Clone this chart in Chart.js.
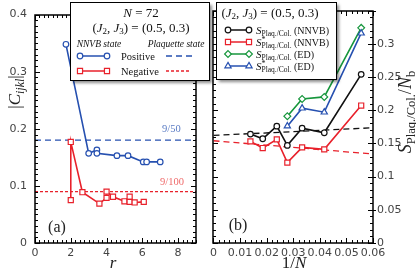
<!DOCTYPE html>
<html><head><meta charset="utf-8">
<script src="https://cdn.jsdelivr.net/npm/chart.js@4/dist/chart.umd.min.js"></script>
<style>
html,body{margin:0;padding:0;background:#fff;width:416px;height:272px;overflow:hidden}
canvas{position:absolute;top:0}
#ca{left:0}
#cb{left:206px}
</style></head><body>
<canvas id="ca" width="216" height="272"></canvas>
<canvas id="cb" width="210" height="272"></canvas>
<script>
// ---------- Panel (a): |C_ijkl| vs r, N = 72 ----------
const aPosR = [1.73, 3.0, 3.46, 3.46, 4.58, 5.2, 6.05, 6.24, 7.0];
const aPosC = [0.348, 0.157, 0.163, 0.157, 0.153, 0.153, 0.142, 0.142, 0.142];
const aNegR = [2.0, 2.0, 2.65, 3.6, 4.0, 4.0, 4.36, 5.0, 5.29, 5.29, 5.57, 6.08];
const aNegC = [0.075, 0.177, 0.089, 0.069, 0.079, 0.090, 0.081, 0.073, 0.081, 0.072, 0.071, 0.072];
const aPlaqPos = 9 / 50;
const aPlaqNeg = 9 / 100;
const aXTicks = [0, 2, 4, 6, 8];
const aYTicks = [0, 0.1, 0.2, 0.3, 0.4];

// ---------- Panel (b): S / N_b vs 1/N ----------
const bInvN = [1/72, 1/54, 1/42, 1/36, 1/30, 1/24, 1/18];
const bSNNVB = [0.164, 0.157, 0.176, 0.147, 0.173, 0.166, 0.254];
const bSstarNNVB = [0.153, 0.143, 0.156, 0.121, 0.144, 0.141, 0.207];
const bInvNED = [1/36, 1/30, 1/24, 1/18];
const bSED = [0.191, 0.217, 0.220, 0.324];
const bSstarED = [0.176, 0.203, 0.197, 0.316];
const bFitX = [0, 0.06];
const bFitS = [0.162, 0.1735];
const bFitSstar = [0.154, 0.134];
const bXTicks = [0, 0.01, 0.02, 0.03, 0.04, 0.05, 0.06];
const bYTicks = [0, 0.05, 0.1, 0.15, 0.2, 0.25, 0.3];

const BLUE = '#2650b0', RED = '#e8212b', GREEN = '#16963c', BLACK = '#111111';
const SERIF = '"Liberation Serif", "DejaVu Serif", serif';
const SANS = '"DejaVu Sans", sans-serif';

const mk = (xs, ys) => xs.map((x, i) => ({x: x, y: ys[i]}));

// ---- rich text helpers ----
function fontOf(p) { return (p.it ? 'italic ' : '') + p.s + 'px ' + SERIF; }
function partW(ctx, p) {
  if (p.stack) return Math.max.apply(null, p.stack.map(q => partW(ctx, q)));
  ctx.font = fontOf(p); return ctx.measureText(p.t).width;
}
function drawRich(ctx, parts, x, y, align) {
  let w = 0; parts.forEach(p => w += partW(ctx, p));
  let cx = align === 'center' ? x - w / 2 : (align === 'right' ? x - w : x);
  ctx.textBaseline = 'alphabetic'; ctx.textAlign = 'left';
  parts.forEach(p => {
    const list = p.stack ? p.stack : [p];
    list.forEach(q => { ctx.font = fontOf(q); ctx.fillText(q.t, cx, y + (q.dy || 0)); });
    cx += partW(ctx, p);
  });
  return w;
}
function marker(ctx, style, x, y, r, color) {
  ctx.save();
  ctx.fillStyle = '#fff'; ctx.strokeStyle = color; ctx.lineWidth = 1.2;
  ctx.beginPath();
  if (style === 'circle') ctx.arc(x, y, r, 0, Math.PI * 2);
  else if (style === 'rect') { const s = r * Math.SQRT1_2; ctx.rect(x - s, y - s, 2 * s, 2 * s); }
  else if (style === 'rectRot') { ctx.moveTo(x, y - r); ctx.lineTo(x + r, y); ctx.lineTo(x, y + r); ctx.lineTo(x - r, y); ctx.closePath(); }
  else if (style === 'triangle') {
    ctx.moveTo(x, y - r); ctx.lineTo(x + r * 0.866, y + r * 0.5); ctx.lineTo(x - r * 0.866, y + r * 0.5); ctx.closePath();
  }
  ctx.fill(); ctx.stroke(); ctx.restore();
}
function legLine(ctx, x1, x2, y, color, style, r) {
  ctx.save(); ctx.strokeStyle = color; ctx.lineWidth = 1.5;
  ctx.beginPath(); ctx.moveTo(x1, y); ctx.lineTo(x2, y); ctx.stroke(); ctx.restore();
  marker(ctx, style, x1, y, r, color); marker(ctx, style, x2, y, r, color);
}
function dashLine(ctx, x1, x2, y, color, dash, w) {
  ctx.save(); ctx.strokeStyle = color; ctx.lineWidth = w; ctx.setLineDash(dash);
  ctx.beginPath(); ctx.moveTo(x1, y); ctx.lineTo(x2, y); ctx.stroke(); ctx.restore();
}
function box(ctx, x1, y1, x2, y2) {
  ctx.save();
  ctx.fillStyle = 'rgba(0,0,0,0.45)';
  ctx.filter = 'blur(1.5px)';
  ctx.fillRect(x1 + 3, y1 + 3, x2 - x1, y2 - y1);
  ctx.filter = 'none';
  ctx.fillStyle = '#fff'; ctx.fillRect(x1, y1, x2 - x1, y2 - y1);
  ctx.strokeStyle = '#000'; ctx.lineWidth = 1;
  ctx.strokeRect(x1 + 0.5, y1 + 0.5, x2 - x1, y2 - y1);
  ctx.restore();
}

// ---- frame + inward ticks plugin ----
function framePlugin(cfg) {
  return {
    id: 'frame_' + cfg.id,
    afterDraw(chart) {
      const ctx = chart.ctx, a = chart.chartArea, xs = chart.scales.x, ys = chart.scales.y;
      ctx.save();
      ctx.strokeStyle = '#000'; ctx.lineWidth = 1;
      const L = Math.round(a.left), R = Math.round(a.right), T = Math.round(a.top), B = Math.round(a.bottom);
      // x ticks
      let n = Math.round((cfg.xMax - cfg.xMin) / cfg.xMinor);
      ctx.beginPath();
      for (let i = 0; i <= n; i++) {
        const v = cfg.xMin + i * cfg.xMinor;
        const px = Math.round(xs.getPixelForValue(v)) + 0.5;
        const len = (i % cfg.xEvery === 0) ? 5 : 3;
        ctx.moveTo(px, B); ctx.lineTo(px, B - len);
        ctx.moveTo(px, T); ctx.lineTo(px, T + len);
      }
      n = Math.round((cfg.yMax - cfg.yMin) / cfg.yMinor);
      for (let i = 0; i <= n; i++) {
        const v = cfg.yMin + i * cfg.yMinor;
        const py = Math.round(ys.getPixelForValue(v)) + 0.5;
        const len = (i % cfg.yEvery === 0) ? 5 : 3;
        ctx.moveTo(L, py); ctx.lineTo(L + len, py);
        ctx.moveTo(R, py); ctx.lineTo(R - len, py);
        if (cfg.rightOut && i % cfg.yEvery === 0) { ctx.moveTo(R, py); ctx.lineTo(R + 3, py); }
      }
      ctx.stroke();
      ctx.lineWidth = 1.5;
      ctx.strokeRect(L, T, R - L, B - T);
      ctx.fillStyle = '#000';
      cfg.extra(ctx, chart);
      ctx.restore();
    }
  };
}

const tickFont = {family: SANS, size: 11};
function baseScales(xMin, xMax, xT, yMin, yMax, yT, yPos, yW, padY) {
  return {
    x: {
      type: 'linear', min: xMin, max: xMax,
      grid: {display: false, drawTicks: false}, border: {display: false},
      afterBuildTicks: s => { s.ticks = xT.map(v => ({value: v})); },
      afterFit: s => { s.height = 29; },
      ticks: {font: tickFont, color: '#444', padding: 4, maxRotation: 0, autoSkip: false,
        callback: v => String(+v.toFixed(3))}
    },
    y: {
      type: 'linear', min: yMin, max: yMax, position: yPos,
      grid: {display: false, drawTicks: false}, border: {display: false},
      afterBuildTicks: s => { s.ticks = yT.map(v => ({value: v})); },
      afterFit: s => { s.width = yW; },
      ticks: {font: tickFont, color: '#444', padding: padY, autoSkip: false,
        callback: v => String(+v.toFixed(3))}
    }
  };
}
const commonOpts = {
  responsive: false, animation: false, devicePixelRatio: 1,
  plugins: {legend: {display: false}, tooltip: {enabled: false}},
  elements: {line: {tension: 0}}
};

// ---------------- Chart (a) ----------------
new Chart(document.getElementById('ca'), {
  type: 'scatter',
  data: {datasets: [
    {data: mk(aPosR, aPosC), showLine: true, borderColor: BLUE, borderWidth: 1.6,
      pointStyle: 'circle', pointRadius: 2.8, pointBorderWidth: 1.2, pointBackgroundColor: '#fff', pointBorderColor: BLUE},
    {data: mk(aNegR, aNegC), showLine: true, borderColor: RED, borderWidth: 1.6,
      pointStyle: 'rect', pointRadius: 3.6, pointBorderWidth: 1.2, pointBackgroundColor: '#fff', pointBorderColor: RED},
    {data: mk([0, 9], [aPlaqPos, aPlaqPos]), showLine: true, borderColor: BLUE, borderWidth: 1.3,
      borderDash: [6, 4], pointRadius: 0},
    {data: mk([0, 9], [aPlaqNeg, aPlaqNeg]), showLine: true, borderColor: RED, borderWidth: 1.3,
      borderDash: [3, 2], pointRadius: 0}
  ]},
  options: Object.assign({}, commonOpts, {
    layout: {padding: {top: 5, right: 20, left: 0, bottom: 0}},
    scales: baseScales(0, 9, aXTicks, 0, 0.4, aYTicks, 'left', 35, 8)
  }),
  plugins: [framePlugin({
    id: 'a', xMin: 0, xMax: 9, xMinor: 0.25, xEvery: 8, yMin: 0, yMax: 0.4, yMinor: 0.01, yEvery: 10,
    extra(ctx, chart) {
      // reference labels
      ctx.fillStyle = '#5b7cc4';
      drawRich(ctx, [{t: '9/50', s: 10.5}], 162, 131.5, 'left');
      ctx.fillStyle = '#ef6a6a';
      drawRich(ctx, [{t: '9/100', s: 10.5}], 160, 184.5, 'left');
      ctx.fillStyle = '#222';
      drawRich(ctx, [{t: '(a)', s: 16}], 57, 232, 'center');
      // axis titles
      drawRich(ctx, [{t: 'r', s: 17, it: 1}], 113, 268, 'center');
      ctx.save(); ctx.translate(14, 92); ctx.rotate(-Math.PI / 2);
      drawRich(ctx, [{t: '|', s: 17}, {t: 'C', s: 17, it: 1}, {t: 'ijkl', s: 12, it: 1, dy: 4}, {t: '|', s: 17}], 0, 6, 'center');
      ctx.restore();
      // legend
      box(ctx, 70, 2, 209, 80);
      ctx.fillStyle = '#111';
      drawRich(ctx, [{t: 'N', s: 13, it: 1}, {t: ' = 72', s: 13}], 141, 17, 'center');
      drawRich(ctx, [{t: '(', s: 13}, {t: 'J', s: 13, it: 1}, {t: '2', s: 9, dy: 2.5}, {t: ', ', s: 13},
        {t: 'J', s: 13, it: 1}, {t: '3', s: 9, dy: 2.5}, {t: ') = (0.5, 0.3)', s: 13}], 141, 31.5, 'center');
      drawRich(ctx, [{t: 'NNVB state', s: 9.5, it: 1}], 99, 46.5, 'center');
      drawRich(ctx, [{t: 'Plaquette state', s: 9.5, it: 1}], 176, 46.5, 'center');
      legLine(ctx, 80, 107, 56, BLUE, 'circle', 2.8);
      drawRich(ctx, [{t: 'Positive', s: 10.5}], 121, 59.5, 'left');
      dashLine(ctx, 166, 192, 56, BLUE, [6, 4], 1.3);
      legLine(ctx, 80, 107, 71, RED, 'rect', 3.6);
      drawRich(ctx, [{t: 'Negative', s: 10.5}], 121, 74.5, 'left');
      dashLine(ctx, 166, 190, 71, RED, [3, 2], 1.3);
    }
  })]
});

// ---------------- Chart (b) ----------------
new Chart(document.getElementById('cb'), {
  type: 'scatter',
  data: {datasets: [
    {data: mk(bInvNED, bSstarED), showLine: true, borderColor: BLUE, borderWidth: 1.6,
      pointStyle: 'triangle', pointRadius: 3.6, pointBorderWidth: 1.2, pointBackgroundColor: '#fff', pointBorderColor: BLUE},
    {data: mk(bInvNED, bSED), showLine: true, borderColor: GREEN, borderWidth: 1.6,
      pointStyle: 'rectRot', pointRadius: 3.4, pointBorderWidth: 1.2, pointBackgroundColor: '#fff', pointBorderColor: GREEN},
    {data: mk(bInvN, bSstarNNVB), showLine: true, borderColor: RED, borderWidth: 1.6,
      pointStyle: 'rect', pointRadius: 3.6, pointBorderWidth: 1.2, pointBackgroundColor: '#fff', pointBorderColor: RED},
    {data: mk(bInvN, bSNNVB), showLine: true, borderColor: BLACK, borderWidth: 1.6,
      pointStyle: 'circle', pointRadius: 2.8, pointBorderWidth: 1.2, pointBackgroundColor: '#fff', pointBorderColor: BLACK},
    {data: mk(bFitX, bFitS), showLine: true, borderColor: BLACK, borderWidth: 1.3, borderDash: [6, 4], pointRadius: 0},
    {data: mk(bFitX, bFitSstar), showLine: true, borderColor: RED, borderWidth: 1.3, borderDash: [6, 4], pointRadius: 0}
  ]},
  options: Object.assign({}, commonOpts, {
    layout: {padding: {top: 5, right: 0, left: 6, bottom: 0}},
    scales: baseScales(0, 0.06, bXTicks, 0, 0.35, bYTicks, 'right', 43, 4)
  }),
  plugins: [framePlugin({
    id: 'b', xMin: 0, xMax: 0.06, xMinor: 0.002, xEvery: 5, yMin: 0, yMax: 0.35, yMinor: 0.01, yEvery: 5, rightOut: true,
    extra(ctx, chart) {
      ctx.fillStyle = '#222';
      drawRich(ctx, [{t: '(b)', s: 16}], 32, 230, 'center');
      drawRich(ctx, [{t: '1/', s: 17}, {t: 'N', s: 17, it: 1}], 88, 268, 'center');
      ctx.save(); ctx.translate(199, 112); ctx.rotate(-Math.PI / 2);
      drawRich(ctx, [{t: 'S', s: 18, it: 1}, {t: 'Plaq./Col.', s: 12.5, dy: 4}, {t: '/', s: 18},
        {t: 'N', s: 18, it: 1}, {t: 'b', s: 12.5, dy: 4}], 0, 6, 'center');
      ctx.restore();
      // legend
      box(ctx, 10, 2, 130, 79);
      ctx.fillStyle = '#111';
      drawRich(ctx, [{t: '(', s: 13}, {t: 'J', s: 13, it: 1}, {t: '2', s: 9, dy: 2.5}, {t: ', ', s: 13},
        {t: 'J', s: 13, it: 1}, {t: '3', s: 9, dy: 2.5}, {t: ') = (0.5, 0.3)', s: 13}], 64, 16.5, 'center');
      const rows = [
        {y: 30, c: BLACK, st: 'circle', r: 2.8, star: false, tag: ' (NNVB)'},
        {y: 42, c: RED, st: 'rect', r: 3.6, star: true, tag: ' (NNVB)'},
        {y: 54, c: GREEN, st: 'rectRot', r: 3.4, star: false, tag: ' (ED)'},
        {y: 66, c: BLUE, st: 'triangle', r: 3.6, star: true, tag: ' (ED)'}
      ];
      rows.forEach(rw => {
        legLine(ctx, 22, 43, rw.y, rw.c, rw.st, rw.r);
        ctx.fillStyle = '#111';
        const sub = rw.star
          ? {stack: [{t: '*', s: 8, dy: -4}, {t: 'Plaq./Col.', s: 7.5, dy: 2.5}]}
          : {t: 'Plaq./Col.', s: 7.5, dy: 2.5};
        drawRich(ctx, [{t: 'S', s: 11, it: 1}, sub, {t: rw.tag, s: 10}], 50, rw.y + 3.5, 'left');
      });
    }
  })]
});
</script>
</body></html>
